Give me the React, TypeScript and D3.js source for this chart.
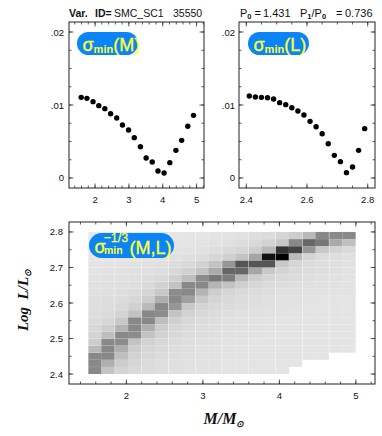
import React from 'react';
import * as d3 from 'd3';

// bin centres of the (M, L) grid
const massCenters = [1.59, 1.76, 1.94, 2.11, 2.29, 2.46, 2.64, 2.81, 2.99, 3.16, 3.34, 3.51, 3.69, 3.86, 4.04, 4.21, 4.39, 4.56, 4.74, 4.91];
const massStep = 0.175;
const lumCenters = [2.41, 2.43, 2.45, 2.47, 2.49, 2.51, 2.53, 2.55, 2.57, 2.59, 2.61, 2.63, 2.65, 2.67, 2.69, 2.71, 2.73, 2.75, 2.77, 2.79];
const lumStep = 0.02;

// sigma_min as function of M and of L
const sigmaByMass = [0.01105, 0.01091, 0.01046, 0.00991, 0.0095, 0.00881, 0.00822, 0.00726, 0.00658, 0.00553, 0.00429, 0.00274, 0.00219, 0.00096, 0.00068, 0.0021, 0.00379, 0.00516, 0.00708, 0.00858];
const sigmaByLum = [0.01123, 0.0111, 0.01105, 0.011, 0.01082, 0.01032, 0.01005, 0.00963, 0.00918, 0.00863, 0.00776, 0.00703, 0.00607, 0.0047, 0.0031, 0.00224, 0.00073, 0.00151, 0.00379, 0.00676];

// grey level of each cell, one row per L bin (bottom row first), null = no model
const shadeRows: (number | null)[][] = [
  [136, 195, 212, 218, 220, 222, 224, 225, 226, 227, 228, 228, 228, 228, 228, null, null, null, null, null],
  [136, 175, 205, 214, 219, 222, 224, 225, 226, 227, 228, 228, 228, 228, 228, 228, null, null, null, null],
  [136, 136, 190, 210, 216, 220, 222, 224, 225, 226, 227, 228, 228, 228, 228, 228, 228, 228, null, null],
  [185, 136, 175, 205, 214, 218, 221, 223, 225, 226, 227, 228, 228, 228, 228, 228, 228, 228, 228, 228],
  [205, 136, 140, 195, 210, 216, 220, 222, 224, 225, 226, 227, 228, 228, 228, 228, 228, 228, 228, 228],
  [212, 190, 136, 140, 195, 210, 216, 220, 222, 224, 225, 226, 227, 228, 228, 228, 228, 228, 228, 228],
  [216, 205, 180, 136, 175, 205, 214, 218, 221, 223, 224, 225, 226, 227, 228, 228, 228, 228, 228, 228],
  [219, 214, 200, 136, 136, 190, 208, 216, 220, 222, 224, 225, 226, 227, 228, 228, 228, 228, 228, 228],
  [221, 218, 212, 195, 136, 140, 195, 210, 216, 220, 222, 224, 225, 226, 227, 228, 228, 228, 228, 228],
  [222, 221, 217, 208, 185, 136, 150, 200, 212, 217, 220, 222, 224, 225, 226, 227, 228, 228, 228, 228],
  [223, 222, 220, 215, 205, 175, 136, 160, 200, 212, 217, 220, 222, 224, 225, 226, 227, 228, 228, 228],
  [224, 223, 222, 219, 213, 200, 140, 136, 180, 205, 213, 217, 220, 222, 224, 225, 226, 227, 227, 227],
  [225, 224, 223, 222, 218, 210, 195, 136, 136, 180, 195, 208, 215, 219, 221, 223, 224, 225, 226, 226],
  [226, 225, 224, 223, 221, 217, 208, 190, 140, 119, 125, 185, 205, 214, 218, 220, 222, 224, 225, 226],
  [227, 226, 225, 224, 223, 221, 216, 208, 195, 170, 102, 102, 165, 200, 212, 218, 220, 222, 224, 225],
  [228, 228, 227, 226, 225, 224, 221, 217, 210, 195, 150, 85, 85, 85, 200, 214, 220, 222, 224, 225],
  [229, 229, 228, 228, 227, 226, 225, 223, 220, 215, 208, 196, 165, 17, 0, 187, 212, 220, 222, 224],
  [230, 230, 230, 229, 229, 228, 227, 226, 225, 222, 218, 213, 205, 185, 51, 68, 150, 200, 212, 218],
  [231, 231, 231, 230, 230, 229, 229, 228, 227, 226, 224, 221, 217, 210, 198, 136, 102, 119, 170, 192],
  [232, 232, 232, 231, 231, 230, 230, 229, 229, 228, 227, 225, 223, 220, 214, 205, 185, 136, 136, 136],
];

const sigmaTicks = [0, 0.01, 0.02];
const sigmaTickLabels = ['0', '.01', '.02'];
const massTicks = [2, 3, 4, 5];
const lumTicksTop = [2.4, 2.6, 2.8];
const lumTicksMap = [2.4, 2.5, 2.6, 2.7, 2.8];

const SANS = '"Liberation Sans", Arial, Helvetica, sans-serif';
const SERIF = '"Liberation Serif", "Times New Roman", serif';
const PILL = '#0a84f6';
const PILL_TEXT = '#ffff33';

type Scale = d3.ScaleLinear<number, number>;

function Frame({ x, y, xMajor, xMinor, yMajor, yMinor }: { x: Scale; y: Scale; xMajor: number[]; xMinor: number[]; yMajor: number[]; yMinor: number[] }) {
  const [x0, x1] = x.range();
  const [y0, y1] = y.range();
  const segs: [number, number, number, number][] = [];
  const addX = (v: number, len: number) => {
    segs.push([x(v), y0, x(v), y0 - len]);
    segs.push([x(v), y1, x(v), y1 + len]);
  };
  const addY = (v: number, len: number) => {
    segs.push([x0, y(v), x0 + len, y(v)]);
    segs.push([x1, y(v), x1 - len, y(v)]);
  };
  xMinor.forEach((v) => addX(v, 2.5));
  xMajor.forEach((v) => addX(v, 4.5));
  yMinor.forEach((v) => addY(v, 2.5));
  yMajor.forEach((v) => addY(v, 4.5));
  return (
    <g>
      {segs.map((s, i) => (
        <line key={i} x1={s[0]} y1={s[1]} x2={s[2]} y2={s[3]} stroke="#333" strokeWidth={0.8} />
      ))}
      <rect x={x0} y={y1} width={x1 - x0} height={y0 - y1} fill="none" stroke="#222" strokeWidth={1} />
    </g>
  );
}

function SigmaPill({ x, y, w, label }: { x: number; y: number; w: number; label: string }) {
  return (
    <g>
      <rect x={x} y={y} width={w} height={23} rx={11.5} fill={PILL} />
      <text x={x + 5.5} y={y + 18.5} fill={PILL_TEXT} stroke={PILL_TEXT} strokeWidth={0.35} fontFamily={SANS} fontSize={18}>
        σ
        <tspan fontSize={11} fontWeight="bold" strokeWidth={0} dy={2.5}>min</tspan>
        <tspan dy={-2.5}>({label})</tspan>
      </text>
    </g>
  );
}

export default function App() {
  const xM = d3.scaleLinear().domain([1.23, 5.22]).range([69, 204]);
  const yS = d3.scaleLinear().domain([-0.00137, 0.02137]).range([188, 22]);
  const xL = d3.scaleLinear().domain([2.376, 2.824]).range([239, 375]);
  const xH = d3.scaleLinear().domain([1.25, 5.25]).range([69, 375]);
  const yH = d3.scaleLinear().domain([2.372, 2.828]).range([384, 222]);

  const sigMinor = d3.range(0, 0.0214, 0.0025);
  const mMinor = d3.range(1.4, 5.21, 0.2);
  const lMinor = d3.range(2.4, 2.821, 0.05);

  const cells: { x: number; y: number; w: number; h: number; g: number }[] = [];
  shadeRows.forEach((row, j) => {
    row.forEach((g, i) => {
      if (g === null) return;
      const m = massCenters[i];
      const l = lumCenters[j];
      const xa = xH(m - massStep / 2);
      const xb = xH(m + massStep / 2);
      const ya = yH(l + lumStep / 2);
      const yb = yH(l - lumStep / 2);
      cells.push({ x: xa, y: ya, w: xb - xa, h: yb - ya, g });
    });
  });

  return (
    <svg width={382} height={436} style={{ position: 'absolute', left: 0, top: 0 }}>
      <rect width={382} height={436} fill="#fff" />

      {/* header */}
      <text y={16.5} fontFamily={SANS} fontSize={10.5} fill="#111">
        <tspan x={69} fontWeight="bold">Var.</tspan>
        <tspan x={95} fontWeight="bold">ID=</tspan>
        <tspan x={114}>SMC_SC1</tspan>
        <tspan x={173}>35550</tspan>
      </text>
      <text y={16.5} fontFamily={SANS} fontSize={11} fill="#111">
        <tspan x={240}>P</tspan>
        <tspan fontSize={7.5} fontWeight="bold" dy={2}>0</tspan>
        <tspan x={254.5} dy={-2}>=</tspan>
        <tspan x={263}>1.431</tspan>
        <tspan x={300}>P</tspan>
        <tspan fontSize={7.5} fontWeight="bold" dy={2}>1</tspan>
        <tspan dy={-2}>/P</tspan>
        <tspan fontSize={7.5} fontWeight="bold" dy={2}>0</tspan>
        <tspan x={336} dy={-2}>=</tspan>
        <tspan x={345}>0.736</tspan>
      </text>

      {/* sigma(M) */}
      <Frame x={xM} y={yS} xMajor={massTicks} xMinor={mMinor} yMajor={sigmaTicks} yMinor={sigMinor} />
      {sigmaByMass.map((s, i) => (
        <circle key={i} cx={xM(massCenters[i])} cy={yS(s)} r={2.7} fill="#000" />
      ))}
      {sigmaTicks.map((t, i) => (
        <text key={i} x={64} y={yS(t) + 3.5} textAnchor="end" fontFamily={SANS} fontSize={9.5} fill="#111">{sigmaTickLabels[i]}</text>
      ))}
      {massTicks.map((t) => (
        <text key={t} x={xM(t)} y={203} textAnchor="middle" fontFamily={SANS} fontSize={9.5} fill="#111">{t}</text>
      ))}
      <SigmaPill x={77} y={32} w={61} label="M" />

      {/* sigma(L) */}
      <Frame x={xL} y={yS} xMajor={lumTicksTop} xMinor={lMinor} yMajor={sigmaTicks} yMinor={sigMinor} />
      {sigmaByLum.map((s, i) => (
        <circle key={i} cx={xL(lumCenters[i])} cy={yS(s)} r={2.7} fill="#000" />
      ))}
      {sigmaTicks.map((t, i) => (
        <text key={i} x={235} y={yS(t) + 3.5} textAnchor="end" fontFamily={SANS} fontSize={9.5} fill="#111">{sigmaTickLabels[i]}</text>
      ))}
      {lumTicksTop.map((t) => (
        <text key={t} x={xL(t)} y={203} textAnchor="middle" fontFamily={SANS} fontSize={9.5} fill="#111">{t.toFixed(1)}</text>
      ))}
      <SigmaPill x={248} y={32} w={61} label="L" />

      {/* sigma(M, L) map */}
      {cells.map((c, i) => (
        <rect key={i} x={c.x} y={c.y} width={c.w} height={c.h} fill={`rgb(${c.g},${c.g},${c.g})`} stroke="rgba(255,255,255,0.1)" strokeWidth={0.5} />
      ))}
      <Frame x={xH} y={yH} xMajor={massTicks} xMinor={mMinor} yMajor={lumTicksMap} yMinor={lMinor} />
      {lumTicksMap.map((t) => (
        <text key={t} x={63} y={yH(t) + 3.5} textAnchor="end" fontFamily={SANS} fontSize={9.5} fill="#111">{t.toFixed(1)}</text>
      ))}
      {massTicks.map((t) => (
        <text key={t} x={xH(t)} y={399} textAnchor="middle" fontFamily={SANS} fontSize={9.5} fill="#111">{t}</text>
      ))}
      <g>
        <rect x={89} y={233} width={85} height={25} rx={12.5} fill={PILL} />
        <text y={253} fill={PILL_TEXT} stroke={PILL_TEXT} strokeWidth={0.35} fontFamily={SANS} fontSize={18}>
          <tspan x={94.5}>σ</tspan>
          <tspan x={104} y={254} fontSize={10.5} fontWeight="bold" strokeWidth={0}>min</tspan>
          <tspan x={103.5} y={242} fontSize={12.5} strokeWidth={0.25}>−1/3</tspan>
          <tspan x={129.5} y={254}>(M,L)</tspan>
        </text>
      </g>

      {/* axis titles */}
      <text transform="translate(27.5,300) rotate(-90)" textAnchor="middle" fontFamily={SERIF} fontStyle="italic" fontWeight="bold" fontSize={15} fill="#111">
        {'Log\u00a0\u00a0L/L'}<tspan fontSize={9} dy={3}>⊙</tspan>
      </text>
      <text x={224} y={424} textAnchor="middle" fontFamily={SERIF} fontStyle="italic" fontWeight="bold" fontSize={16} fill="#111">
        M/M<tspan fontSize={9} dy={3}>⊙</tspan>
      </text>
    </svg>
  );
}
